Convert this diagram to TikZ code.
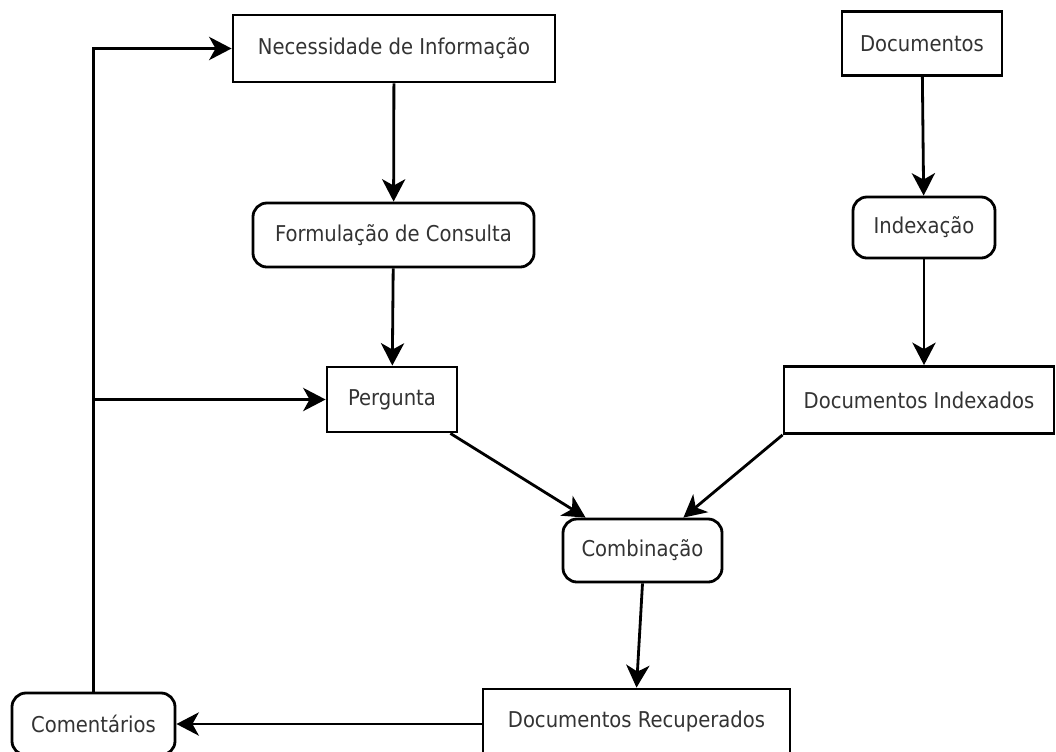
\documentclass[tikz,border=0pt]{standalone}
\usepackage{fontspec}
\setmainfont{DejaVu Sans Condensed}
\usetikzlibrary{positioning,calc,arrows.meta}
\tikzset{
  caixa/.style={rectangle, minimum width=4cm, minimum height=1.6cm, text centered, draw=black, line width=2pt, text=black!80, font=\fontsize{15.5pt}{18pt}\selectfont},
  proc/.style={caixa, rounded corners=3.5mm},
  seta/.style={line width=2pt, -{Stealth[length=5.6mm, width=5.8mm, inset=1.6mm]}}
}
\begin{document}
\begin{tikzpicture}[x=0.025cm, y=-0.025cm]
\useasboundingbox (0,0) rectangle (1056,751);
% lado da consulta
\node[caixa, minimum width=8.05cm, minimum height=1.675cm] (nec) at (394,48.5) {Necessidade de Informação};
\node[proc, minimum width=7.025cm] (form) at (393.5,235) {Formulação de Consulta};
\node[caixa, minimum width=3.25cm, minimum height=1.625cm] (perg) at (392,399.5) {Pergunta};
% lado dos documentos
\node[caixa, minimum width=4cm] (docs) at (922,43.5) {Documentos};
\node[proc, minimum width=3.55cm, minimum height=1.525cm] (idx) at (924,227.5) {Indexação};
\node[caixa, minimum width=6.75cm, minimum height=1.675cm] (dind) at (919,400) {Documentos Indexados};
% resultado
\node[proc, minimum width=3.975cm, minimum height=1.575cm] (comb) at (642.5,550.5) {Combinação};
\node[caixa, minimum width=7.675cm] (drec) at (636.5,721) {Documentos Recuperados};
\node[proc, minimum width=4.075cm, minimum height=1.55cm] (com) at (93.5,724) {Comentários};

\draw[seta] (nec) -- (form);
\draw[seta] (form) -- (perg);
\draw[seta] (docs) -- (idx);
\draw[seta] (idx.south) -- (idx.south |- dind.north);
\draw[seta] ([xshift=-2mm]perg.south east) -- ([xshift=6mm]comb.north west);
\draw[seta] (dind.south west) -- ([xshift=-1cm]comb.north east);
\draw[seta] (comb.south) -- (drec.north);
\draw[seta] (com.east -| drec.west) -- (com.east);
% realimentacao
\coordinate (topo) at (com.north |- nec.west);
\coordinate (ramo) at (com.north |- perg.west);
\draw[seta] (com.north) -- (topo) -- (nec.west);
\draw[seta] (ramo) -- (perg.west);
\end{tikzpicture}
\end{document}
